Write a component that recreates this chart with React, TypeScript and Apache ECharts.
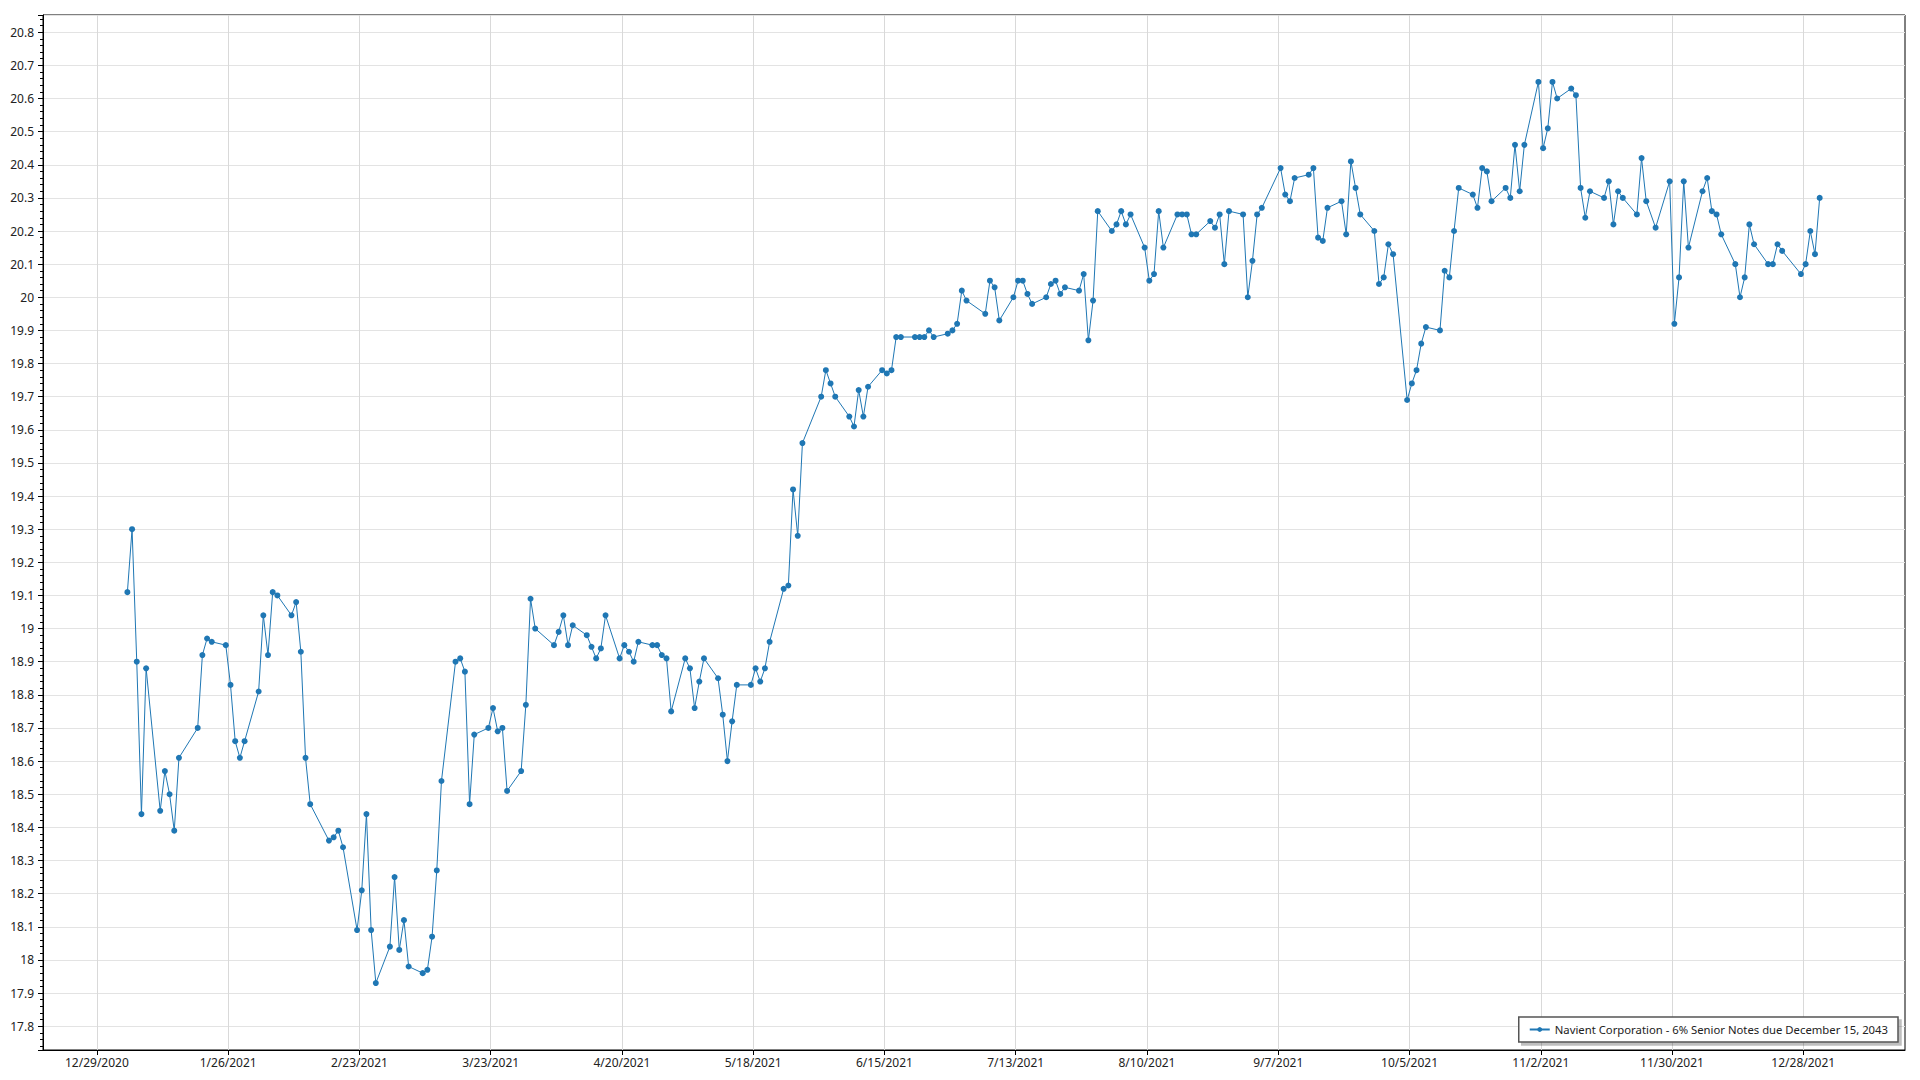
import React, { useEffect, useRef } from 'react';
import * as echarts from 'echarts';

const SERIES_NAME = 'Navient Corporation - 6% Senior Notes due December 15, 2043';

const DATES: string[] = [
  '2021-01-04','2021-01-05','2021-01-06','2021-01-07','2021-01-08','2021-01-11','2021-01-12','2021-01-13','2021-01-14','2021-01-15',
  '2021-01-19','2021-01-20','2021-01-21','2021-01-22','2021-01-25','2021-01-26','2021-01-27','2021-01-28','2021-01-29',
  '2021-02-01','2021-02-02','2021-02-03','2021-02-04','2021-02-05','2021-02-08','2021-02-09','2021-02-10','2021-02-11','2021-02-12',
  '2021-02-16','2021-02-17','2021-02-18','2021-02-19','2021-02-22','2021-02-23','2021-02-24','2021-02-25','2021-02-26',
  '2021-03-01','2021-03-02','2021-03-03','2021-03-04','2021-03-05','2021-03-08','2021-03-09','2021-03-10','2021-03-11','2021-03-12',
  '2021-03-15','2021-03-16','2021-03-17','2021-03-18','2021-03-19','2021-03-22','2021-03-23','2021-03-24','2021-03-25','2021-03-26',
  '2021-03-29','2021-03-30','2021-03-31',
  '2021-04-01','2021-04-05','2021-04-06','2021-04-07','2021-04-08','2021-04-09','2021-04-12','2021-04-13','2021-04-14','2021-04-15','2021-04-16',
  '2021-04-19','2021-04-20','2021-04-21','2021-04-22','2021-04-23','2021-04-26','2021-04-27','2021-04-28','2021-04-29','2021-04-30',
  '2021-05-03','2021-05-04','2021-05-05','2021-05-06','2021-05-07','2021-05-10','2021-05-11','2021-05-12','2021-05-13','2021-05-14',
  '2021-05-17','2021-05-18','2021-05-19','2021-05-20','2021-05-21','2021-05-24','2021-05-25','2021-05-26','2021-05-27','2021-05-28',
  '2021-06-01','2021-06-02','2021-06-03','2021-06-04','2021-06-07','2021-06-08','2021-06-09','2021-06-10','2021-06-11',
  '2021-06-14','2021-06-15','2021-06-16','2021-06-17','2021-06-18','2021-06-21','2021-06-22','2021-06-23','2021-06-24','2021-06-25',
  '2021-06-28','2021-06-29','2021-06-30',
  '2021-07-01','2021-07-02','2021-07-06','2021-07-07','2021-07-08','2021-07-09','2021-07-12','2021-07-13','2021-07-14','2021-07-15','2021-07-16',
  '2021-07-19','2021-07-20','2021-07-21','2021-07-22','2021-07-23','2021-07-26','2021-07-27','2021-07-28','2021-07-29','2021-07-30',
  '2021-08-02','2021-08-03','2021-08-04','2021-08-05','2021-08-06','2021-08-09','2021-08-10','2021-08-11','2021-08-12','2021-08-13',
  '2021-08-16','2021-08-17','2021-08-18','2021-08-19','2021-08-20','2021-08-23','2021-08-24','2021-08-25','2021-08-26','2021-08-27',
  '2021-08-30','2021-08-31',
  '2021-09-01','2021-09-02','2021-09-03','2021-09-07','2021-09-08','2021-09-09','2021-09-10','2021-09-13','2021-09-14','2021-09-15','2021-09-16','2021-09-17',
  '2021-09-20','2021-09-21','2021-09-22','2021-09-23','2021-09-24','2021-09-27','2021-09-28','2021-09-29','2021-09-30',
  '2021-10-01','2021-10-04','2021-10-05','2021-10-06','2021-10-07','2021-10-08','2021-10-11','2021-10-12','2021-10-13','2021-10-14','2021-10-15',
  '2021-10-18','2021-10-19','2021-10-20','2021-10-21','2021-10-22','2021-10-25','2021-10-26','2021-10-27','2021-10-28','2021-10-29',
  '2021-11-01','2021-11-02','2021-11-03','2021-11-04','2021-11-05','2021-11-08','2021-11-09','2021-11-10','2021-11-11','2021-11-12',
  '2021-11-15','2021-11-16','2021-11-17','2021-11-18','2021-11-19','2021-11-22','2021-11-23','2021-11-24','2021-11-26','2021-11-29','2021-11-30',
  '2021-12-01','2021-12-02','2021-12-03','2021-12-06','2021-12-07','2021-12-08','2021-12-09','2021-12-10','2021-12-13','2021-12-14','2021-12-15',
  '2021-12-16','2021-12-17','2021-12-20','2021-12-21','2021-12-22','2021-12-23','2021-12-27','2021-12-28','2021-12-29','2021-12-30','2021-12-31',
];

const PRICES: number[] = [
  19.11, 19.30, 18.90, 18.44, 18.88, 18.45, 18.57, 18.50, 18.39, 18.61,
  18.70, 18.92, 18.97, 18.96, 18.95, 18.83, 18.66, 18.61, 18.66,
  18.81, 19.04, 18.92, 19.11, 19.10, 19.04, 19.08, 18.93, 18.61, 18.47,
  18.36, 18.37, 18.39, 18.34, 18.09, 18.21, 18.44, 18.09, 17.93,
  18.04, 18.25, 18.03, 18.12, 17.98, 17.96, 17.97, 18.07, 18.27, 18.54,
  18.90, 18.91, 18.87, 18.47, 18.68, 18.70, 18.76, 18.69, 18.70, 18.51,
  18.57, 18.77, 19.09,
  19.00, 18.95, 18.99, 19.04, 18.95, 19.01, 18.98, 18.945, 18.91, 18.94, 19.04,
  18.91, 18.95, 18.93, 18.90, 18.96, 18.95, 18.95, 18.92, 18.91, 18.75,
  18.91, 18.88, 18.76, 18.84, 18.91, 18.85, 18.74, 18.60, 18.72, 18.83,
  18.83, 18.88, 18.84, 18.88, 18.96, 19.12, 19.13, 19.42, 19.28, 19.56,
  19.70, 19.78, 19.74, 19.70, 19.64, 19.61, 19.72, 19.64, 19.73,
  19.78, 19.77, 19.78, 19.88, 19.88, 19.88, 19.88, 19.88, 19.90, 19.88,
  19.89, 19.90, 19.92,
  20.02, 19.99, 19.95, 20.05, 20.03, 19.93, 20.00, 20.05, 20.05, 20.01, 19.98,
  20.00, 20.04, 20.05, 20.01, 20.03, 20.02, 20.07, 19.87, 19.99, 20.26,
  20.20, 20.22, 20.26, 20.22, 20.25, 20.15, 20.05, 20.07, 20.26, 20.15,
  20.25, 20.25, 20.25, 20.19, 20.19, 20.23, 20.21, 20.25, 20.10, 20.26,
  20.25, 20.00,
  20.11, 20.25, 20.27, 20.39, 20.31, 20.29, 20.36, 20.37, 20.39, 20.18, 20.17, 20.27,
  20.29, 20.19, 20.41, 20.33, 20.25, 20.20, 20.04, 20.06, 20.16,
  20.13, 19.69, 19.74, 19.78, 19.86, 19.91, 19.90, 20.08, 20.06, 20.20, 20.33,
  20.31, 20.27, 20.39, 20.38, 20.29, 20.33, 20.30, 20.46, 20.32, 20.46,
  20.65, 20.45, 20.51, 20.65, 20.60, 20.63, 20.61, 20.33, 20.24, 20.32,
  20.30, 20.35, 20.22, 20.32, 20.30, 20.25, 20.42, 20.29, 20.21, 20.35, 19.92,
  20.06, 20.35, 20.15, 20.32, 20.36, 20.26, 20.25, 20.19, 20.10, 20.00, 20.06,
  20.22, 20.16, 20.10, 20.10, 20.16, 20.14, 20.07, 20.10, 20.20, 20.13, 20.30,
];

const X_TICK_LABELS: string[] = [
  '12/29/2020', '1/26/2021', '2/23/2021', '3/23/2021', '4/20/2021', '5/18/2021', '6/15/2021',
  '7/13/2021', '8/10/2021', '9/7/2021', '10/5/2021', '11/2/2021', '11/30/2021', '12/28/2021',
];

const ORIGIN = Date.UTC(2020, 11, 29);
const DAY = 86400000;
const dayOfIso = (iso: string) => (Date.parse(iso + 'T12:00:00Z') - ORIGIN) / DAY;
const dayOfLabel = (s: string) => {
  const [m, d, y] = s.split('/').map(Number);
  return (Date.UTC(y, m - 1, d) - ORIGIN) / DAY;
};
const labelOfDay = (v: number) => {
  const dt = new Date(ORIGIN + Math.round(v) * DAY);
  return `${dt.getUTCMonth() + 1}/${dt.getUTCDate()}/${dt.getUTCFullYear()}`;
};

const FONT = "'Segoe UI', 'Noto Sans', sans-serif";

export default function App() {
  const ref = useRef<HTMLDivElement>(null);
  useEffect(() => {
    if (!ref.current) return;
    const chart = echarts.init(ref.current, undefined, { renderer: 'svg' });
    const tickDays = X_TICK_LABELS.map(dayOfLabel);
    const data = DATES.map((d, i) => [dayOfIso(d), PRICES[i]]);
    chart.setOption({
      animation: false,
      backgroundColor: '#ffffff',
      textStyle: { fontFamily: FONT },
      grid: {
        left: 43, right: 15, top: 15, bottom: 30,
        show: true, borderColor: '#000', borderWidth: 1, backgroundColor: 'transparent',
      },
      legend: {
        show: true,
        data: [SERIES_NAME],
        right: 22,
        bottom: 38,
        orient: 'horizontal',
        backgroundColor: '#ffffff',
        borderColor: '#555',
        borderWidth: 1.5,
        padding: [7, 10, 7, 10],
        itemWidth: 20,
        itemHeight: 6,
        shadowColor: 'rgba(0,0,0,0.25)',
        shadowOffsetX: 3,
        shadowOffsetY: 3,
        shadowBlur: 0,
        textStyle: { fontFamily: FONT, fontSize: 11.3, color: '#222' },
      },
      xAxis: {
        type: 'value',
        min: -11.5,
        max: 385.7,
        axisLine: { show: true, onZero: false, lineStyle: { color: '#000', width: 1 } },
        axisTick: { show: true, customValues: tickDays, length: 5, lineStyle: { color: '#000' } },
        axisLabel: {
          customValues: tickDays,
          formatter: (v: number) => labelOfDay(v),
          fontFamily: FONT, fontSize: 12, color: '#222', margin: 6,
        },
        splitLine: { show: true, lineStyle: { color: '#d9d9d9', width: 1 } },
      },
      yAxis: {
        type: 'value',
        min: 17.728,
        max: 20.852,
        splitNumber: 31,
        axisLine: { show: true, onZero: false, lineStyle: { color: '#000', width: 1 } },
        axisTick: { show: true, length: 5, lineStyle: { color: '#000' } },
        minorTick: { show: true, splitNumber: 5, length: 3, lineStyle: { color: '#000' } },
        axisLabel: {
          showMinLabel: false, showMaxLabel: false,
          fontFamily: FONT, fontSize: 12, color: '#222', margin: 9,
        },
        splitLine: { show: true, lineStyle: { color: '#e3e3e3', width: 1 } },
      },
      series: [
        {
          name: SERIES_NAME,
          type: 'line',
          data,
          symbol: 'circle',
          symbolSize: 6,
          showSymbol: true,
          color: '#1f77b4',
          lineStyle: { color: '#1f77b4', width: 1 },
          itemStyle: { color: '#1f77b4' },
        },
      ],
    });
    return () => chart.dispose();
  }, []);
  return (
    <div
      ref={ref}
      style={{ position: 'fixed', left: 0, top: 0, width: 1920, height: 1080, background: '#fff' }}
    />
  );
}
